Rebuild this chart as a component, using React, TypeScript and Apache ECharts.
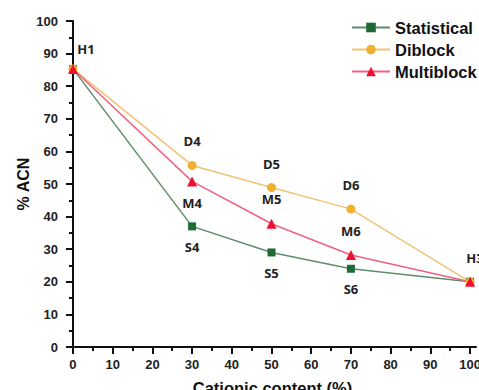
import React, { useEffect, useRef } from "react";
import * as echarts from "echarts";

const xValues = [0, 30, 50, 70, 100];
const statistical = [85.3, 37, 29, 24, 20];
const diblock = [85.3, 55.7, 48.9, 42.3, 20];
const multiblock = [85.3, 50.8, 37.8, 28.2, 20];
const statLabels = ["", "S4", "S5", "S6", ""];
const diLabels = ["", "D4", "D5", "D6", ""];
const multiLabels = ["H1", "M4", "M5", "M6", "H3"];
const xTickLabels = [0, 10, 20, 30, 40, 50, 60, 70, 80, 90, 100];
const xMinorTicks = [5, 15, 25, 35, 45, 55, 65, 75, 85, 95];

const FONT = "Liberation Sans, Arial, sans-serif";

function buildData(values: number[], labels: string[], defPos: string, exceptions: Record<number, any> = {}) {
  return values.map((v, i) => {
    const base: any = { position: defPos, distance: defPos === "top" ? 13 : 10 };
    const ex = exceptions[i] || {};
    return {
      value: [xValues[i], v],
      label: { show: labels[i] !== "", formatter: labels[i], ...base, ...ex },
    };
  });
}

export default function App() {
  const ref = useRef<HTMLDivElement>(null);
  useEffect(() => {
    if (!ref.current) return;
    const chart = echarts.init(ref.current, null, { renderer: "svg" });
    const labelStyle = { fontFamily: "Open Sans, sans-serif", fontWeight: "bold", fontSize: 13, color: "#222" };
    chart.setOption({
      animation: false,
      backgroundColor: "#fff",
      grid: { left: 69, right: 3, top: 21, bottom: 43, outerBoundsMode: "none", containLabel: false },
      legend: {
        orient: "vertical",
        left: 346,
        top: 14,
        itemWidth: 38,
        itemHeight: 12,
        itemGap: 5,
        textStyle: { fontFamily: FONT, fontWeight: "bold", fontSize: 16.5, color: "#111" },
        data: ["Statistical", "Diblock", "Multiblock"],
      },
      xAxis: [
        {
          type: "value",
          min: -1,
          max: 101.5,
          name: "Cationic content (%)",
          nameLocation: "middle",
          nameGap: 32,
          nameTextStyle: { fontFamily: FONT, fontWeight: "bold", fontSize: 16.5, color: "#111" },
          splitLine: { show: false },
          axisLine: { show: true, lineStyle: { color: "#111", width: 2 } },
          axisTick: { show: true, length: 7, lineStyle: { color: "#111", width: 2 }, customValues: xTickLabels },
          axisLabel: {
            customValues: xTickLabels,
            margin: 11,
            fontFamily: FONT,
            fontWeight: "bold",
            fontSize: 13,
            color: "#222",
          },
        },
        {
          type: "value",
          min: -1,
          max: 101.5,
          position: "bottom",
          splitLine: { show: false },
          axisLine: { show: false },
          axisTick: { show: true, length: 4, lineStyle: { color: "#111", width: 2 }, customValues: xMinorTicks },
          axisLabel: { show: false, customValues: xMinorTicks },
        },
      ],
      yAxis: {
        type: "value",
        min: 0,
        max: 100,
        interval: 10,
        name: "% ACN",
        nameLocation: "middle",
        nameGap: 38,
        nameMoveOverlap: false,
        nameTextStyle: { fontFamily: FONT, fontWeight: "bold", fontSize: 16, color: "#111" },
        splitLine: { show: false },
        axisLine: { show: true, lineStyle: { color: "#111", width: 2 } },
        axisTick: { show: true, length: 7, lineStyle: { color: "#111", width: 2 } },
        minorTick: { show: true, splitNumber: 2, length: 4, lineStyle: { color: "#111", width: 2 } },
        axisLabel: { margin: 11, fontFamily: FONT, fontWeight: "bold", fontSize: 13, color: "#222" },
      },
      series: [
        {
          name: "Statistical",
          type: "line",
          symbol: "rect",
          symbolSize: 8,
          itemStyle: { color: "#1c6a36" },
          lineStyle: { color: "#5d8e6c", width: 1.5 },
          label: labelStyle,
          data: buildData(statistical, statLabels, "bottom"),
        },
        {
          name: "Diblock",
          type: "line",
          symbol: "circle",
          symbolSize: 9,
          itemStyle: { color: "#f0b030" },
          lineStyle: { color: "#f2c274", width: 1.5 },
          label: labelStyle,
          data: buildData(diblock, diLabels, "top"),
        },
        {
          name: "Multiblock",
          type: "line",
          symbol: "triangle",
          symbolSize: 10,
          itemStyle: { color: "#ee1030" },
          lineStyle: { color: "#f06080", width: 1.5 },
          label: labelStyle,
          data: buildData(multiblock, multiLabels, "top", {
            0: { position: "top", distance: 5, offset: [13, -3] },
            1: { position: "bottom", distance: 10 },
            4: { position: "top", distance: 12, offset: [5, 0] },
          }),
        },
      ],
    });
    return () => chart.dispose();
  }, []);
  return <div ref={ref} style={{ width: 479, height: 390, position: "absolute", left: 0, top: 0 }} />;
}
